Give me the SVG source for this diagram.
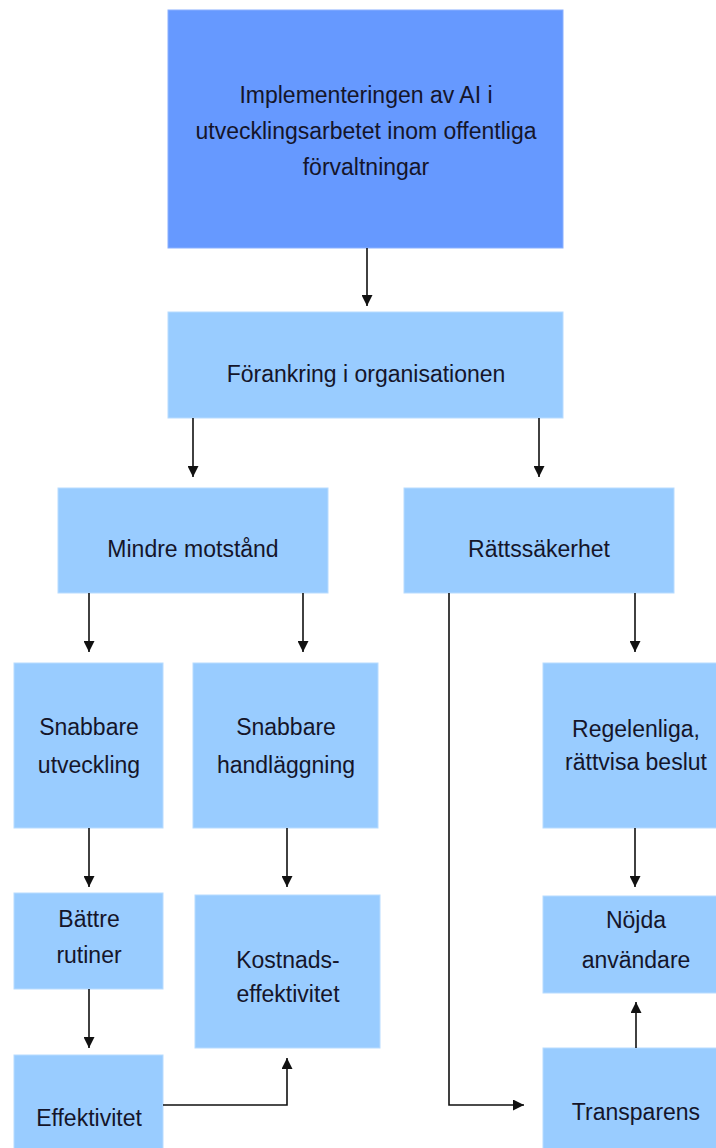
<svg xmlns="http://www.w3.org/2000/svg" width="716" height="1148" viewBox="0 0 716 1148">
<style>
.box{fill:#99CCFF;stroke:#B8DCFF;stroke-width:1}
.top{fill:#6699FF;stroke:#8AB0FF;stroke-width:1}
text{font-family:"Liberation Sans",Arial,sans-serif;font-size:23px;fill:#15152a;text-anchor:middle}
.c{fill:none;stroke:#111;stroke-width:1.6}
</style>
<defs>
<marker id="ah" viewBox="0 0 10 10" refX="10" refY="5" markerWidth="11" markerHeight="11" markerUnits="userSpaceOnUse" orient="auto">
<path d="M0,0 L10,5 L0,10 z" fill="#111"/>
</marker>
</defs>
<rect width="716" height="1148" fill="#fff"/>
<g id="n-impl"><rect class="top" x="168" y="10" width="395" height="238"/>
<text x="366" y="103">Implementeringen av AI i</text><text x="366" y="139">utvecklingsarbetet inom offentliga</text><text x="366" y="175">förvaltningar</text></g>
<g id="n-forankring"><rect class="box" x="168" y="312" width="395" height="106"/><text x="366" y="382">Förankring i organisationen</text></g>
<g id="n-mindre"><rect class="box" x="58" y="488" width="270" height="105"/><text x="193" y="557">Mindre motstånd</text></g>
<g id="n-ratt"><rect class="box" x="404" y="488" width="270" height="105"/><text x="539" y="557">Rättssäkerhet</text></g>
<g id="n-snabbutv"><rect class="box" x="14" y="663" width="149" height="165"/><text x="89" y="735">Snabbare</text><text x="89" y="773">utveckling</text></g>
<g id="n-snabbhand"><rect class="box" x="193" y="663" width="185" height="165"/><text x="286" y="735">Snabbare</text><text x="286" y="773">handläggning</text></g>
<g id="n-regel"><rect class="box" x="543" y="663" width="190" height="165"/><text x="636" y="737">Regelenliga,</text><text x="636" y="770">rättvisa beslut</text></g>
<g id="n-battre"><rect class="box" x="14" y="893" width="149" height="96"/><text x="89" y="927">Bättre</text><text x="89" y="963">rutiner</text></g>
<g id="n-kostnad"><rect class="box" x="195" y="895" width="185" height="153"/><text x="288" y="968">Kostnads-</text><text x="288" y="1002">effektivitet</text></g>
<g id="n-nojda"><rect class="box" x="543" y="896" width="190" height="97"/><text x="636" y="928">Nöjda</text><text x="636" y="968">användare</text></g>
<g id="n-effekt"><rect class="box" x="14" y="1055" width="149" height="100"/><text x="89" y="1126">Effektivitet</text></g>
<g id="n-transp"><rect class="box" x="543" y="1048" width="190" height="107"/><text x="636" y="1120">Transparens</text></g>
<g id="connectors">
<path class="c" d="M367,248 V306" marker-end="url(#ah)"/>
<path class="c" d="M193,418 V477" marker-end="url(#ah)"/>
<path class="c" d="M539,418 V477" marker-end="url(#ah)"/>
<path class="c" d="M89,593 V652" marker-end="url(#ah)"/>
<path class="c" d="M303,593 V652" marker-end="url(#ah)"/>
<path class="c" d="M635,593 V652" marker-end="url(#ah)"/>
<path class="c" d="M89,828 V887" marker-end="url(#ah)"/>
<path class="c" d="M287,828 V887" marker-end="url(#ah)"/>
<path class="c" d="M635,828 V887" marker-end="url(#ah)"/>
<path class="c" d="M89,989 V1048" marker-end="url(#ah)"/>
<path class="c" d="M163,1105 H287 V1058" marker-end="url(#ah)"/>
<path class="c" d="M449,593 V1105 H524" marker-end="url(#ah)"/>
<path class="c" d="M636,1048 V1002" marker-end="url(#ah)"/>
</g>
</svg>
